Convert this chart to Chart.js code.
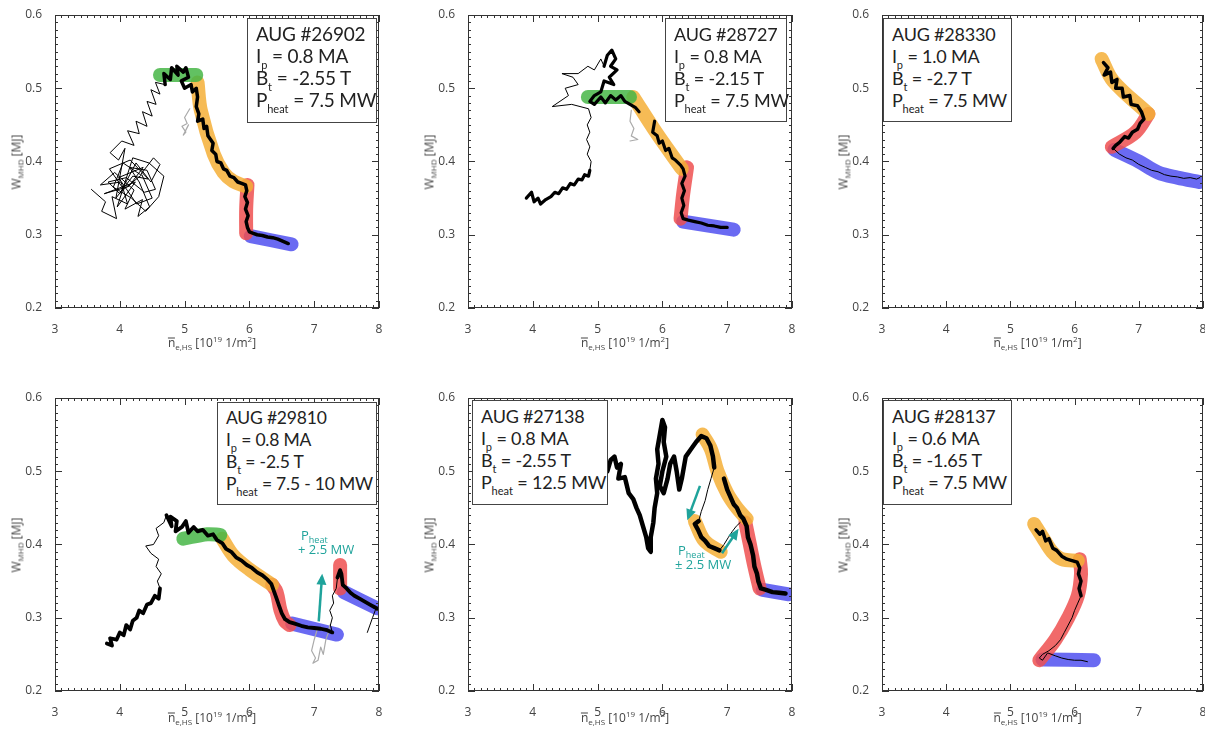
<!DOCTYPE html>
<html>
<head>
<meta charset="utf-8">
<script src="https://cdn.jsdelivr.net/npm/chart.js@4.4.1/dist/chart.umd.min.js"></script>
<style>
body { margin: 0; background: #fff; font-family: "Open Sans", sans-serif; }
#fig { position: relative; width: 1205px; height: 731px; overflow: hidden; }
canvas { position: absolute; }
.box { position: absolute; border: 1px solid #444; background: #fff; box-sizing: border-box;
       padding: 4px 0 0 8px; font-family: Lato, sans-serif; font-size: 18px; line-height: 22px; color: #222;
       letter-spacing: -0.2px; white-space: nowrap; }
.box sub { font-size: 11px; vertical-align: -6px; line-height: 0; letter-spacing: 0; }
.ylab { position: absolute; transform: translate(-50%, -50%) rotate(-90deg); font-size: 12px; color: #444; white-space: nowrap; }
.xlab { position: absolute; transform: translate(-50%, -50%); font-size: 12px; color: #444; white-space: nowrap; }
.lab sub { font-size: 8px; vertical-align: -3px; line-height: 0; }
.lab sup { font-size: 8px; vertical-align: 5px; line-height: 0; }
.bar { position: relative; }
.bar::before { content: ""; position: absolute; left: 0; right: 0; top: 4px; border-top: 1px solid #444; }
.ann { position: absolute; color: #1fa39b; font-size: 13px; line-height: 14px; white-space: nowrap; }
.ann sub { font-size: 9px; vertical-align: -3px; line-height: 0; }
</style>
</head>
<body>
<div id="fig"></div>
<script>
/* Stored energy vs. line density, six AUG discharges.
   Coloured bands mark the phases, black is the measured trajectory. */

const X_TICKS = [3, 4, 5, 6, 7, 8];
const Y_TICKS = [0.2, 0.3, 0.4, 0.5, 0.6];

const GREEN = "rgba(70,182,70,0.85)";
const ORANGE = "rgba(245,175,55,0.85)";
const RED = "rgba(238,80,80,0.85)";
const BLUE = "rgba(80,80,240,0.85)";
const TEAL = "#1fa39b";

// ---- #26902
const p1Green = [[4.62, 0.518], [5.18, 0.518]];
const p1Orange = [[5.2, 0.508], [5.25, 0.47], [5.45, 0.41], [5.6, 0.385], [5.75, 0.373], [5.95, 0.366]];
const p1Red = [[5.97, 0.368], [5.95, 0.335], [5.95, 0.302]];
const p1Blue = [[6.02, 0.298], [6.65, 0.287]];
const p1Thin = [[3.56, 0.362], [3.78, 0.345], [3.72, 0.332], [3.95, 0.322], [3.88, 0.352], [4.12, 0.342], [4.02, 0.372],
  [3.7, 0.368], [3.92, 0.385], [4.22, 0.361], [4.08, 0.335], [4.35, 0.348], [4.28, 0.325], [4.46, 0.338], [4.3, 0.372],
  [4.15, 0.392], [4.42, 0.388], [4.55, 0.362], [4.38, 0.358], [4.1, 0.378], [3.82, 0.372], [4.0, 0.356], [4.25, 0.398],
  [4.48, 0.372], [4.62, 0.396], [4.52, 0.405], [4.32, 0.382], [4.05, 0.398], [3.9, 0.365], [4.18, 0.35], [4.4, 0.332],
  [4.6, 0.352], [4.68, 0.38], [4.45, 0.398], [4.2, 0.405], [3.96, 0.338], [4.24, 0.372], [3.76, 0.356], [4.14, 0.366],
  [4.36, 0.392], [3.98, 0.378], [4.26, 0.342], [4.5, 0.35], [4.34, 0.382], [4.06, 0.362], [3.84, 0.39], [4.16, 0.402],
  [4.44, 0.376], [4.2, 0.38], [3.94, 0.35], [4.08, 0.418], [3.98, 0.402], [3.85, 0.412], [4.03, 0.428],
  [4.22, 0.422], [4.12, 0.442], [4.3, 0.438], [4.25, 0.455], [4.42, 0.448], [4.35, 0.468], [4.5, 0.462], [4.42, 0.482],
  [4.56, 0.478], [4.48, 0.498], [4.62, 0.492], [4.55, 0.508], [4.7, 0.505]];
const p1Thick = [[4.7, 0.505], [4.68, 0.52], [4.78, 0.512], [4.8, 0.528], [4.9, 0.518], [4.88, 0.53], [4.98, 0.522],
  [5.02, 0.528], [5.06, 0.515], [4.95, 0.51], [5.0, 0.5], [5.1, 0.505], [5.12, 0.495], [5.18, 0.5], [5.2, 0.488],
  [5.18, 0.475], [5.22, 0.465], [5.2, 0.455], [5.28, 0.458], [5.3, 0.445], [5.34, 0.448], [5.36, 0.435], [5.4, 0.43],
  [5.44, 0.425], [5.42, 0.415], [5.48, 0.41], [5.5, 0.4], [5.56, 0.398], [5.6, 0.39], [5.65, 0.388], [5.7, 0.38],
  [5.76, 0.378], [5.82, 0.372], [5.88, 0.37], [5.94, 0.368], [5.96, 0.36], [5.93, 0.352], [5.97, 0.344], [5.94, 0.335],
  [5.98, 0.326], [5.95, 0.318], [5.97, 0.31], [6.0, 0.304], [6.06, 0.302], [6.12, 0.3], [6.2, 0.299], [6.28, 0.297],
  [6.36, 0.296], [6.44, 0.294], [6.52, 0.291], [6.6, 0.288]];
const p1Gray = [[5.08, 0.472], [5.0, 0.46], [5.04, 0.452], [4.96, 0.448], [5.02, 0.44], [4.98, 0.436], [5.06, 0.45]];

// ---- #28727
const p2Green = [[4.85, 0.488], [5.5, 0.488]];
const p2Orange = [[5.55, 0.488], [5.9, 0.44], [6.3, 0.39]];
const p2Red = [[6.38, 0.392], [6.32, 0.355], [6.28, 0.322]];
const p2Blue = [[6.32, 0.318], [7.1, 0.307]];
const p2Thin = [[4.88, 0.388], [4.9, 0.4], [4.84, 0.41], [4.88, 0.42], [4.83, 0.43], [4.88, 0.44], [4.84, 0.45], [4.9, 0.46],
  [4.86, 0.472], [4.6, 0.478], [4.3, 0.475], [4.55, 0.49], [4.5, 0.5], [4.7, 0.505], [4.62, 0.515], [4.45, 0.52],
  [4.7, 0.52], [4.85, 0.53], [4.95, 0.525], [5.05, 0.54], [5.1, 0.53]];
const p2Start = [[3.9, 0.35], [3.98, 0.358], [4.02, 0.345], [4.08, 0.35], [4.12, 0.342], [4.2, 0.348], [4.28, 0.352],
  [4.34, 0.358], [4.4, 0.356], [4.46, 0.364], [4.52, 0.362], [4.58, 0.37], [4.64, 0.368], [4.7, 0.376], [4.76, 0.375],
  [4.8, 0.382], [4.86, 0.38], [4.88, 0.388]];
const p2Top = [[5.1, 0.53], [5.15, 0.545], [5.22, 0.552], [5.28, 0.54], [5.2, 0.53], [5.3, 0.525], [5.18, 0.515],
  [5.25, 0.505], [5.1, 0.51], [5.05, 0.495], [4.95, 0.49], [4.88, 0.482], [4.95, 0.478], [5.05, 0.488], [5.12, 0.48],
  [5.2, 0.49], [5.28, 0.484], [5.36, 0.49], [5.42, 0.482], [5.5, 0.478], [5.58, 0.474], [5.64, 0.468]];
const p2Band = [[5.88, 0.455], [5.85, 0.44], [5.92, 0.435], [5.95, 0.425], [6.0, 0.428], [6.05, 0.415], [6.1, 0.418],
  [6.15, 0.405], [6.2, 0.402], [6.28, 0.395], [6.32, 0.39], [6.35, 0.38], [6.3, 0.37], [6.34, 0.36], [6.3, 0.35],
  [6.33, 0.34], [6.29, 0.33], [6.32, 0.322], [6.4, 0.32], [6.5, 0.318], [6.6, 0.316], [6.7, 0.313], [6.8, 0.312],
  [6.9, 0.31], [7.0, 0.31]];
const p2Gray = [[5.52, 0.47], [5.5, 0.455], [5.56, 0.445], [5.52, 0.435], [5.62, 0.43], [5.5, 0.428]];

// ---- #28330
const p3Orange = [[6.42, 0.54], [6.6, 0.51], [7.15, 0.465]];
const p3Red = [[7.15, 0.465], [6.95, 0.44], [6.58, 0.42]];
const p3Blue = [[6.62, 0.416], [7.0, 0.4], [7.3, 0.385], [7.6, 0.378], [7.95, 0.372]];
const p3Thick = [[6.45, 0.535], [6.52, 0.528], [6.46, 0.518], [6.56, 0.522], [6.58, 0.508], [6.66, 0.512], [6.64, 0.5],
  [6.74, 0.5], [6.76, 0.488], [6.86, 0.49], [6.88, 0.478], [6.98, 0.476], [7.04, 0.468], [7.08, 0.458], [7.02, 0.452],
  [6.98, 0.444], [6.9, 0.44], [6.84, 0.432], [6.78, 0.434], [6.7, 0.426], [6.64, 0.422], [6.6, 0.418]];
const p3Thin = [[6.6, 0.418], [6.7, 0.41], [6.8, 0.405], [6.9, 0.402], [7.0, 0.396], [7.1, 0.392], [7.2, 0.388],
  [7.3, 0.386], [7.4, 0.382], [7.5, 0.38], [7.6, 0.379], [7.7, 0.377], [7.8, 0.378], [7.9, 0.376], [7.95, 0.378]];

// ---- #29810
const p4Green = [[4.98, 0.408], [5.35, 0.414], [5.55, 0.413]];
const p4Orange = [[5.58, 0.408], [5.75, 0.385], [6.0, 0.366], [6.35, 0.345]];
const p4Red = [[6.35, 0.345], [6.42, 0.335], [6.48, 0.31], [6.55, 0.295], [6.62, 0.29]];
const p4Blue = [[6.66, 0.292], [7.35, 0.277]];
const p4Red2 = [[7.4, 0.372], [7.4, 0.34]];
const p4Blue2 = [[7.46, 0.335], [7.97, 0.313]];
const p4Start = [[3.8, 0.265], [3.88, 0.262], [3.85, 0.272], [3.95, 0.27], [4.0, 0.28], [4.06, 0.276], [4.1, 0.29],
  [4.16, 0.284], [4.2, 0.296], [4.26, 0.3], [4.3, 0.31], [4.36, 0.306], [4.42, 0.318], [4.48, 0.32], [4.54, 0.33],
  [4.6, 0.326], [4.62, 0.34]];
const p4Thin = [[4.62, 0.34], [4.58, 0.35], [4.64, 0.36], [4.56, 0.37], [4.6, 0.38], [4.48, 0.388], [4.4, 0.398],
  [4.52, 0.4], [4.6, 0.412], [4.56, 0.422], [4.68, 0.43], [4.72, 0.44]];
const p4Thick = [[4.72, 0.44], [4.8, 0.425], [4.78, 0.438], [4.88, 0.432], [4.86, 0.418], [4.96, 0.424], [5.02, 0.432],
  [5.06, 0.416], [5.14, 0.424], [5.2, 0.418], [5.28, 0.42], [5.36, 0.412], [5.44, 0.414], [5.5, 0.406], [5.58, 0.402],
  [5.64, 0.394], [5.72, 0.39], [5.8, 0.382], [5.88, 0.378], [5.96, 0.372], [6.04, 0.368], [6.12, 0.362], [6.2, 0.358],
  [6.28, 0.352], [6.34, 0.346], [6.38, 0.336], [6.42, 0.326], [6.46, 0.316], [6.5, 0.306], [6.55, 0.298], [6.62, 0.294],
  [6.7, 0.292], [6.8, 0.289], [6.9, 0.287], [7.0, 0.286], [7.1, 0.285], [7.2, 0.283], [7.28, 0.28]];
const p4Thin2 = [[7.28, 0.28], [7.25, 0.29], [7.28, 0.3], [7.24, 0.31], [7.3, 0.32], [7.28, 0.33], [7.34, 0.34], [7.36, 0.355]];
const p4Thick2 = [[7.36, 0.355], [7.4, 0.365], [7.42, 0.36], [7.44, 0.345], [7.5, 0.34], [7.56, 0.334], [7.62, 0.33],
  [7.7, 0.326], [7.78, 0.322], [7.86, 0.318], [7.94, 0.314], [7.99, 0.312]];
const p4Tail = [[7.95, 0.312], [7.9, 0.3], [7.86, 0.29], [7.82, 0.28]];
const p4Gray = [[7.05, 0.285], [7.0, 0.27], [6.96, 0.255], [7.02, 0.245], [6.98, 0.238], [7.06, 0.242], [7.1, 0.26],
  [7.14, 0.25], [7.18, 0.27], [7.22, 0.28], [7.24, 0.29]];
const p4Arrow = [[7.07, 0.295], [7.12, 0.356]];

// ---- #27138
const p5Orange = [[6.62, 0.55], [6.75, 0.53], [6.85, 0.5], [7.0, 0.47], [7.15, 0.45], [7.3, 0.435]];
const p5Orange2 = [[6.5, 0.432], [6.65, 0.405], [6.9, 0.39]];
const p5Red = [[7.28, 0.43], [7.35, 0.4], [7.42, 0.37], [7.5, 0.34]];
const p5Blue = [[7.55, 0.338], [7.95, 0.332]];
const p5Thick = [[5.15, 0.5], [5.2, 0.515], [5.26, 0.52], [5.3, 0.505], [5.36, 0.51], [5.32, 0.49], [5.42, 0.492],
  [5.48, 0.47], [5.55, 0.462], [5.6, 0.45], [5.65, 0.44], [5.7, 0.425], [5.75, 0.41], [5.78, 0.395], [5.82, 0.39],
  [5.82, 0.41], [5.86, 0.43], [5.88, 0.45], [5.92, 0.47], [5.9, 0.49], [5.94, 0.51], [5.92, 0.53], [5.96, 0.55],
  [6.0, 0.57], [6.04, 0.56], [6.02, 0.54], [6.06, 0.52], [6.0, 0.5], [5.96, 0.48], [6.02, 0.47], [6.08, 0.49],
  [6.12, 0.51], [6.18, 0.52], [6.22, 0.5], [6.26, 0.475], [6.3, 0.49], [6.36, 0.52], [6.44, 0.53], [6.52, 0.54],
  [6.6, 0.548], [6.68, 0.545], [6.74, 0.535], [6.78, 0.52], [6.8, 0.505]];
const p5Thin = [[6.8, 0.505], [6.75, 0.49], [6.7, 0.475], [6.66, 0.46], [6.6, 0.445], [6.56, 0.432]];
const p5Thick2 = [[6.56, 0.432], [6.5, 0.428], [6.55, 0.42], [6.6, 0.41], [6.66, 0.405], [6.72, 0.398], [6.8, 0.395], [6.88, 0.392]];
const p5Thin2 = [[6.88, 0.392], [6.95, 0.4], [7.02, 0.41], [7.08, 0.418], [7.14, 0.425], [7.2, 0.43]];
const p5Thick3 = [[6.95, 0.49], [7.0, 0.475], [7.05, 0.465], [7.1, 0.455], [7.15, 0.45], [7.2, 0.44], [7.25, 0.435],
  [7.3, 0.425], [7.32, 0.41], [7.36, 0.4], [7.4, 0.385], [7.42, 0.37], [7.46, 0.36], [7.48, 0.35], [7.52, 0.34],
  [7.6, 0.338], [7.7, 0.335], [7.8, 0.334], [7.9, 0.333]];
const p5ArrowA = [[6.58, 0.48], [6.4, 0.437]];
const p5ArrowB = [[6.92, 0.388], [7.15, 0.418]];

// ---- #28137
const p6Orange = [[5.37, 0.428], [5.5, 0.41], [5.65, 0.39], [5.8, 0.38], [6.05, 0.378]];
const p6Red = [[6.08, 0.38], [6.1, 0.36], [6.05, 0.33], [5.9, 0.3], [5.7, 0.27], [5.45, 0.242]];
const p6Blue = [[5.5, 0.243], [6.3, 0.242]];
const p6Thick = [[5.4, 0.42], [5.46, 0.414], [5.5, 0.418], [5.55, 0.405], [5.6, 0.408], [5.66, 0.395], [5.72, 0.392],
  [5.8, 0.384], [5.88, 0.38], [5.96, 0.378], [6.04, 0.376], [6.08, 0.368], [6.06, 0.36], [6.1, 0.35], [6.07, 0.34], [6.1, 0.33]];
const p6Thin = [[6.1, 0.33], [6.05, 0.32], [6.0, 0.31], [5.96, 0.3], [5.9, 0.29], [5.84, 0.28], [5.78, 0.27], [5.7, 0.262],
  [5.6, 0.255], [5.5, 0.25], [5.45, 0.245], [5.5, 0.242], [5.58, 0.252], [5.7, 0.248], [5.8, 0.245], [5.9, 0.243],
  [6.0, 0.242], [6.1, 0.242], [6.2, 0.24]];

const panels = [
  { left: 55, top: 15, w: 324, h: 293, shot: "AUG #26902", ip: "0.8 MA", bt: "-2.55 T", ph: "7.5 MW", box: [247, 18, 130, 105],
    bands: [[p1Green, GREEN], [p1Orange, ORANGE], [p1Red, RED], [p1Blue, BLUE]], fs: 19,
    thin: [p1Thin], thick: [p1Thick], gray: [p1Gray], arrows: [], tw: 3.5 },
  { left: 468, top: 15, w: 324, h: 293, shot: "AUG #28727", ip: "0.8 MA", bt: "-2.15 T", ph: "7.5 MW", box: [665, 18, 122, 104],
    bands: [[p2Green, GREEN], [p2Orange, ORANGE], [p2Red, RED], [p2Blue, BLUE]], fs: 18,
    thin: [p2Thin], thick: [p2Start, p2Top, p2Band], gray: [p2Gray], arrows: [], tw: 3.2 },
  { left: 882, top: 15, w: 321, h: 293, shot: "AUG #28330", ip: "1.0 MA", bt: "-2.7 T", ph: "7.5 MW", box: [883, 18, 129, 104],
    bands: [[p3Orange, ORANGE], [p3Red, RED], [p3Blue, BLUE]], fs: 18,
    thin: [p3Thin], thick: [p3Thick], gray: [], arrows: [], tw: 3.5 },
  { left: 55, top: 398, w: 324, h: 293, shot: "AUG #29810", ip: "0.8 MA", bt: "-2.5 T", ph: "7.5 - 10 MW", box: [217, 402, 160, 103],
    bands: [[p4Green, GREEN], [p4Orange, ORANGE], [p4Red, RED], [p4Blue, BLUE], [p4Red2, RED], [p4Blue2, BLUE]], fs: 17.5,
    thin: [p4Thin, p4Thin2, p4Tail], thick: [p4Start, p4Thick, p4Thick2], gray: [p4Gray], arrows: [p4Arrow],
    ann: { left: 298, top: 528, sign: "+ 2.5 MW" }, tw: 3.8 },
  { left: 468, top: 398, w: 324, h: 293, shot: "AUG #27138", ip: "0.8 MA", bt: "-2.55 T", ph: "12.5 MW", box: [472, 400, 136, 105],
    bands: [[p5Orange, ORANGE], [p5Orange2, ORANGE], [p5Red, RED], [p5Blue, BLUE]], fs: 18,
    thin: [p5Thin, p5Thin2], thick: [p5Thick, p5Thick2, p5Thick3], gray: [], arrows: [p5ArrowA, p5ArrowB],
    ann: { left: 675, top: 543, sign: "± 2.5 MW" }, tw: 4.5 },
  { left: 882, top: 398, w: 321, h: 293, shot: "AUG #28137", ip: "0.6 MA", bt: "-1.65 T", ph: "7.5 MW", box: [883, 400, 129, 105],
    bands: [[p6Orange, ORANGE], [p6Red, RED], [p6Blue, BLUE]], fs: 18,
    thin: [p6Thin], thick: [p6Thick], gray: [], arrows: [], tw: 3.5 },
];

const PAD_L = 55, PAD_T = 15, PAD_R = 12, AXIS_H = 30;

function pts(arr) { return arr.map(([x, y]) => ({ x, y })); }

function line(arr, color, width, order, extra) {
  return Object.assign({
    data: pts(arr), showLine: true, borderColor: color, backgroundColor: color, borderWidth: width,
    pointRadius: 0, borderCapStyle: "round", borderJoinStyle: "round", tension: 0, fill: false, order,
  }, extra || {});
}

// IDL-style box: frame plus major/minor ticks on all four sides, pointing inward
const framePlugin = {
  id: "frame",
  afterDatasetsDraw(chart) {
    const { ctx, chartArea: a, scales: { x, y } } = chart;
    ctx.save();
    ctx.strokeStyle = "#333";
    ctx.lineWidth = 1;
    ctx.strokeRect(a.left + 0.5, a.top + 0.5, a.right - a.left - 1, a.bottom - a.top - 1);
    ctx.beginPath();
    const nx = (X_TICKS[X_TICKS.length - 1] - X_TICKS[0]) * 10;
    for (let i = 0; i <= nx; i++) {
      const px = Math.round(x.getPixelForValue(X_TICKS[0] + i * 0.1)) + 0.5;
      const len = i % 10 === 0 ? 7 : 3;
      ctx.moveTo(px, a.bottom); ctx.lineTo(px, a.bottom - len);
      ctx.moveTo(px, a.top); ctx.lineTo(px, a.top + len);
    }
    const ny = Math.round((Y_TICKS[Y_TICKS.length - 1] - Y_TICKS[0]) * 100);
    for (let i = 0; i <= ny; i++) {
      const py = Math.round(y.getPixelForValue(Y_TICKS[0] + i * 0.01)) + 0.5;
      const len = i % 10 === 0 ? 7 : 3;
      ctx.moveTo(a.left, py); ctx.lineTo(a.left + len, py);
      ctx.moveTo(a.right, py); ctx.lineTo(a.right - len, py);
    }
    ctx.stroke();
    ctx.restore();
  },
};

// arrowheads on the teal arrow datasets
const arrowPlugin = {
  id: "arrowHeads",
  afterDatasetsDraw(chart) {
    const ctx = chart.ctx;
    chart.data.datasets.forEach((ds, i) => {
      if (!ds.arrow) return;
      const el = chart.getDatasetMeta(i).data;
      const p0 = el[el.length - 2], p1 = el[el.length - 1];
      const ang = Math.atan2(p1.y - p0.y, p1.x - p0.x);
      const tx = p1.x + 3 * Math.cos(ang), ty = p1.y + 3 * Math.sin(ang);
      ctx.save();
      ctx.fillStyle = TEAL;
      ctx.beginPath();
      ctx.moveTo(tx, ty);
      ctx.lineTo(tx - 11 * Math.cos(ang) + 5 * Math.sin(ang), ty - 11 * Math.sin(ang) - 5 * Math.cos(ang));
      ctx.lineTo(tx - 11 * Math.cos(ang) - 5 * Math.sin(ang), ty - 11 * Math.sin(ang) + 5 * Math.cos(ang));
      ctx.closePath();
      ctx.fill();
      ctx.restore();
    });
  },
};

const fig = document.getElementById("fig");

function addDiv(cls, html, style) {
  const d = document.createElement("div");
  d.className = cls;
  d.innerHTML = html;
  Object.assign(d.style, style);
  fig.appendChild(d);
  return d;
}

panels.forEach((p, idx) => {
  const cv = document.createElement("canvas");
  const cw = p.w + PAD_L + PAD_R, chh = p.h + PAD_T + AXIS_H;
  cv.width = cw; cv.height = chh;
  cv.style.left = (p.left - PAD_L) + "px";
  cv.style.top = (p.top - PAD_T) + "px";
  cv.style.width = cw + "px"; cv.style.height = chh + "px";
  fig.appendChild(cv);

  const datasets = [];
  p.arrows.forEach(a => datasets.push(line(a, TEAL, 2.5, 0, { arrow: true, borderCapStyle: "butt" })));
  p.thick.forEach(a => datasets.push(line(a, "#000", p.tw, 1)));
  p.thin.forEach(a => datasets.push(line(a, "#000", 1, 1)));
  p.gray.forEach(a => datasets.push(line(a, "#aaa", 1.2, 2)));
  p.bands.forEach(([a, c]) => datasets.push(line(a, c, 14, 3, { tension: 0.35 })));

  new Chart(cv, {
    type: "scatter",
    data: { datasets },
    options: {
      responsive: false, animation: false, devicePixelRatio: 1,
      layout: { padding: { left: 0, top: PAD_T, right: PAD_R, bottom: 0 } },
      plugins: { legend: { display: false }, tooltip: { enabled: false } },
      scales: {
        x: {
          type: "linear", min: X_TICKS[0], max: X_TICKS[X_TICKS.length - 1],
          afterBuildTicks: s => { s.ticks = X_TICKS.map(v => ({ value: v })); },
          afterFit: s => { s.height = AXIS_H; },
          grid: { display: false }, border: { display: false },
          ticks: { color: "#444", padding: 6, font: { family: "Open Sans", size: 12 }, callback: v => String(v) },
        },
        y: {
          type: "linear", min: Y_TICKS[0], max: Y_TICKS[Y_TICKS.length - 1],
          afterBuildTicks: s => { s.ticks = Y_TICKS.map(v => ({ value: v })); },
          afterFit: s => { s.width = PAD_L; },
          grid: { display: false }, border: { display: false },
          ticks: { color: "#444", padding: 5, font: { family: "Open Sans", size: 12 }, callback: v => v.toFixed(1) },
        },
      },
    },
    plugins: [framePlugin, arrowPlugin],
  });

  const [bl, bt, bw, bh] = p.box;
  addDiv("box",
    `<div>${p.shot}</div><div>I<sub>p</sub> = ${p.ip}</div><div>B<sub>t</sub> = ${p.bt}</div><div>P<sub>heat</sub> = ${p.ph}</div>`,
    { left: bl + "px", top: bt + "px", width: bw + "px", height: bh + "px", fontSize: p.fs + "px" });

  const row = idx < 3 ? 0 : 1;
  addDiv("ylab lab", "W<sub>MHD</sub> [MJ]", { left: (p.left - 39) + "px", top: (p.top + p.h / 2) + "px" });
  addDiv("xlab lab",
    `<span class="bar">n</span><sub>e,HS</sub> [10<sup>19</sup> 1/m<sup>2</sup>]`,
    { left: (p.left + p.w / 2 - 5) + "px", top: (p.top + p.h + (row === 0 ? 34 : 26)) + "px" });

  if (p.ann) {
    addDiv("ann", `<div style="padding-left:3px">P<sub>heat</sub></div><div>${p.ann.sign}</div>`,
      { left: p.ann.left + "px", top: p.ann.top + "px" });
  }
});
</script>
</body>
</html>
